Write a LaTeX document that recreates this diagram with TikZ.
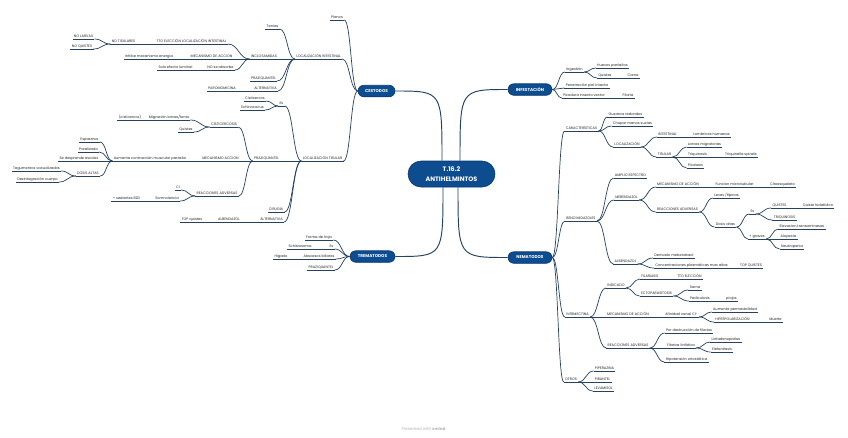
\documentclass[tikz,border=0pt]{standalone}
\usepackage{fontspec}
\setmainfont{Poppins}
\usetikzlibrary{calc}
\definecolor{lnc}{HTML}{27425F}
\definecolor{pillc}{HTML}{0C4C8F}
\definecolor{pilld}{HTML}{083A6E}
\definecolor{txt}{HTML}{262626}
\tikzset{
 ln/.style={draw=lnc, line width=0.7pt},
 mainln/.style={draw=lnc, line width=0.95pt},
 topic/.style={anchor=south, inner xsep=1.2pt, inner ysep=0.7pt, text height=2.6pt, text depth=1pt, font=\fontsize{3.55}{4}\selectfont, text=txt},
 pill/.style={fill=pillc, draw=pilld, line width=0.6pt, text=white, font=\bfseries\fontsize{4.2}{5}\selectfont, inner sep=0pt, minimum height=11.5pt, rounded corners=5.75pt},
}
\newcommand\tp[4]{\node[topic] (#1) at (#2,#3) {#4}; \draw[ln] (#1.south west) -- (#1.south east);}
\newcommand\conn[2]{\draw[ln] (#1) .. controls ($(#1)!0.5!(#1-|#2)$) and ($(#2)!0.5!(#2-|#1)$) .. (#2);}
\newcommand\lk[2]{\conn{#1.south east}{#2.south west}}
\begin{document}
\begin{tikzpicture}[x=1pt,y=-1pt]
\useasboundingbox (0,0) rectangle (848,437);
\fill[white] (0,0) rectangle (848,437);
% main nodes
\node[pill, minimum width=87pt, minimum height=26pt, rounded corners=13pt, font=\bfseries\fontsize{6.4}{9.3}\selectfont, align=center] (ctr) at (451.5,174) {T.16.2\\ANTIHELMINTOS};
\node[pill, minimum width=37pt] (cest) at (376.5,91) {CESTODOS};
\node[pill, minimum width=45pt] (trem) at (372.5,256.5) {TREMATODOS};
\node[pill, minimum width=44pt] (inf) at (530,89.5) {INFESTACIÓN};
\node[pill, minimum width=44pt] (nem) at (530,257.5) {NEMATODOS};
\coordinate (c1) at ([xshift=-9.5pt]ctr.north);
\coordinate (c2) at ([xshift=8.5pt]ctr.north);
\coordinate (c3) at ([xshift=-8.5pt]ctr.south);
\coordinate (c4) at ([xshift=6.5pt]ctr.south);
\draw[mainln] (c1) .. controls (c1 |- cest.east) .. (cest.east);
\draw[mainln] (c2) .. controls (c2 |- inf.west) .. (inf.west);
\draw[mainln] (c3) .. controls (c3 |- trem.east) .. (trem.east);
\draw[mainln] (c4) .. controls (c4 |- nem.west) .. (nem.west);
% CESTODOS
\tp{planos}{337}{20}{Planos}
\tp{locint}{318.5}{59}{LOCALIZACIÓN INTESTINAL}
\tp{tenias}{272.5}{29}{Tenias}
\tp{inclo}{264}{59}{INCLOSAMIDAS}
\tp{ttoel}{191.5}{44}{TTO ELECCIÓN LOCALIZACIÓN INTESTINAL}
\tp{notis}{123.5}{44}{NO TISULARES}
\tp{nolar}{83.5}{39}{NO LARVAS}
\tp{noqui}{82}{49}{NO QUISTES}
\tp{mecc}{211.5}{59}{MECANISMO DE ACCION}
\tp{inhibe}{149}{59}{Inhibe mecanismo energia}
\tp{noabs}{220.5}{70}{NO se absorbe}
\tp{solo}{175.5}{70}{Solo efecto luminal}
\tp{prazi1}{263.5}{81}{PRAZIQUANTEL}
\tp{alt1}{265.5}{91}{ALTERNATIVA}
\tp{paro}{222}{91}{PAROMOMICINA}
\tp{loctis}{322.5}{161}{LOCALIZACIÓN TISULAR}
\tp{es1}{281.5}{106}{Es}
\tp{cisticercos}{255}{101}{Cisticercos}
\tp{echino}{252.5}{110}{Echinococus}
\tp{prazi2}{266.5}{161}{PRAZIQUANTEL}
\tp{cistic}{224}{127}{CISTICERCOSIS}
\tp{migr}{169}{120}{Migración larvas/tenia}
\tp{cisti2}{130}{120}{(cisticercos)}
\tp{quistes1}{186}{132}{Quistes}
\tp{meca2}{220.5}{161}{MECANISMO ACCION}
\tp{aument}{150}{161}{Aumenta contracción muscular parásito}
\tp{espas}{89.5}{142}{Espasmos}
\tp{paral}{88.5}{152}{Paralizado}
\tp{sedesp}{79}{161}{Se desprende escolex}
\tp{dosis1}{88}{176}{DOSIS ALTAS}
\tp{tegu}{36.5}{171}{Tegumentos vacuolizados}
\tp{desint}{37.5}{182}{Desintegración cuerpo}
\tp{reac1}{217}{196}{REACCIONES ADVERSAS}
\tp{ci}{178}{190}{CI}
\tp{somno}{167}{201}{Somnolencia}
\tp{sedan}{126.5}{201}{+ sedantes BZD}
\tp{ciru}{276}{212}{CIRUGIA}
\tp{alt2}{271.5}{222}{ALTERNATIVA}
\tp{albe1}{229}{222}{ALBENDAZOL}
\tp{topq}{192}{222}{TOP quistes}
\conn{planos.south east}{cest.west}
\conn{locint.south east}{cest.west}
\conn{loctis.south east}{cest.west}
\lk{tenias}{locint} \lk{inclo}{locint} \lk{prazi1}{locint} \lk{alt1}{locint}
\lk{ttoel}{inclo} \lk{mecc}{inclo} \lk{noabs}{inclo}
\lk{notis}{ttoel} \lk{nolar}{notis} \lk{noqui}{notis}
\lk{inhibe}{mecc} \lk{solo}{noabs} \lk{paro}{alt1}
\lk{es1}{loctis} \lk{prazi2}{loctis} \lk{ciru}{loctis} \lk{alt2}{loctis}
\lk{cisticercos}{es1} \lk{echino}{es1}
\lk{cistic}{prazi2} \lk{meca2}{prazi2} \lk{reac1}{prazi2}
\lk{migr}{cistic} \lk{quistes1}{cistic} \lk{cisti2}{migr}
\lk{aument}{meca2} \lk{espas}{aument} \lk{paral}{aument} \lk{sedesp}{aument} \lk{dosis1}{aument}
\lk{tegu}{dosis1} \lk{desint}{dosis1}
\lk{ci}{reac1} \lk{somno}{reac1} \lk{sedan}{somno}
\lk{albe1}{alt2} \lk{topq}{albe1}
% TREMATODOS
\tp{forma}{319}{240}{Forma de hoja}
\tp{es2}{331.5}{249}{Es}
\tp{schis}{300}{249}{Schistosoma}
\tp{absc}{319}{259}{Abscesos biliares}
\tp{higado}{281}{259}{Hígado}
\tp{prazi3}{321}{270}{PRAZIQUANTEL}
\conn{forma.south east}{trem.west}
\conn{es2.south east}{trem.west}
\conn{absc.south east}{trem.west}
\conn{prazi3.south east}{trem.west}
\lk{schis}{es2} \lk{higado}{absc}
% INFESTACION
\tp{ingest}{574.5}{72}{Ingestión}
\tp{huevos}{612.5}{68}{Huevos parásitos}
\tp{quistes2}{605}{78}{Quistes}
\tp{carne}{633}{78}{Carne}
\tp{penet}{587}{88}{Penetración piel intacta}
\tp{picad}{584}{98}{Picadura insecto vector}
\tp{filaria}{628}{98}{Filaria}
\conn{inf.east}{ingest.south west}
\conn{inf.east}{penet.south west}
\conn{inf.east}{picad.south west}
\lk{ingest}{huevos} \lk{ingest}{quistes2} \lk{quistes2}{carne} \lk{picad}{filaria}
% NEMATODOS
\tp{carac}{581.5}{131}{CARACTERÍSTICAS}
\tp{gusanos}{625.5}{117}{Gusanos redondos}
\tp{chupar}{632.5}{126}{Chupar manos sucias}
\tp{loc}{627}{147}{LOCALIZACIÓN}
\tp{intest}{667.5}{137}{INTESTINAL}
\tp{lomb}{711.5}{137}{Lombrices humanas}
\tp{tisu}{664.5}{157}{TISULAR}
\tp{larvas}{704.5}{147}{Larvas migratorias}
\tp{triq}{697.5}{157}{Triquinosis}
\tp{triqsp}{741}{157}{Triquinella spiralis}
\tp{filar}{695.5}{168}{Filariasis}
\tp{benci}{581}{221}{BENCIMIDAZOLES}
\tp{amplio}{630.5}{178}{AMPLIO ESPECTRO}
\tp{mebe}{626.5}{200}{MEBENDAZOL}
\tp{meca3}{678}{187}{MECANISMO DE ACCIÓN}
\tp{func}{734.5}{187}{Funcion microtubular}
\tp{citoe}{782.5}{187}{Citoesqueleto}
\tp{reac2}{677.5}{212}{REACCIONES ADVERSAS}
\tp{leves}{726.5}{198}{Leves /típicas}
\tp{dosis2}{725.5}{227}{Dosis altas}
\tp{es3}{752.5}{214}{Es}
\tp{quistes3}{779.5}{208}{QUISTES}
\tp{hidat}{818}{208}{Quiste hidatídico}
\tp{triq2}{784.5}{220}{TRIQUINOSIS}
\tp{graves}{757}{239}{+ graves}
\tp{elev}{802}{229}{Elevacion transaminasas}
\tp{alope}{788.5}{239}{Alopecia}
\tp{neutro}{792}{249}{Neutropenia}
\tp{albe2}{625.5}{264}{ALBENDAZOL}
\tp{deriv}{674}{258}{Derivado mebendazol}
\tp{conc}{691.5}{268}{Concentraciones plasmáticas mas altas}
\tp{topq2}{751}{268}{TOP QUISTES}
\tp{iver}{577.5}{317}{IVERMECTINA}
\tp{indic}{616}{288}{INDICADO}
\tp{filar2}{650}{279}{FILARIASIS}
\tp{ttoel2}{689.5}{279}{TTO ELECCIÓN}
\tp{ecto}{656.5}{296}{ECTOPARASITOSIS}
\tp{sarna}{695}{290}{Sarna}
\tp{pedic}{700}{301}{Pediculosis}
\tp{piojos}{731.5}{301}{piojos}
\tp{meca4}{628}{317}{MECANISMO DE ACCIÓN}
\tp{afin}{681.5}{317}{Afinidad canal Cl-}
\tp{aumper}{735}{312}{Aumenta permeabilidad}
\tp{hiper}{732.5}{322}{HIPERPOLARIZACIÓN}
\tp{muerte}{775.5}{322}{Muerte}
\tp{reac3}{628}{348}{REACCIONES ADVERSAS}
\tp{pordes}{689}{333}{Por destrucción de filarias}
\tp{filin}{681}{348}{Filarias linfática}
\tp{linfa}{726}{342}{Linfadenopatías}
\tp{elef}{722}{352}{Elefantiasis}
\tp{hipot}{686.5}{362}{Hipotensión ortostática}
\tp{otros}{571}{382}{OTROS}
\tp{piper}{604.5}{371}{PIPERAZINA}
\tp{piran}{602.5}{382}{PIRANTEL}
\tp{levam}{603.5}{391}{LEVAMISOL}
\conn{nem.east}{carac.south west}
\conn{nem.east}{benci.south west}
\conn{nem.east}{iver.south west}
\conn{nem.east}{otros.south west}
\lk{carac}{gusanos} \lk{carac}{chupar} \lk{carac}{loc}
\lk{loc}{intest} \lk{loc}{tisu} \lk{intest}{lomb}
\lk{tisu}{larvas} \lk{tisu}{triq} \lk{tisu}{filar} \lk{triq}{triqsp}
\lk{benci}{amplio} \lk{benci}{mebe} \lk{benci}{albe2}
\lk{mebe}{meca3} \lk{mebe}{reac2} \lk{meca3}{func} \lk{func}{citoe}
\lk{reac2}{leves} \lk{reac2}{dosis2}
\lk{dosis2}{es3} \lk{dosis2}{graves}
\lk{es3}{quistes3} \lk{es3}{triq2} \lk{quistes3}{hidat}
\lk{graves}{elev} \lk{graves}{alope} \lk{graves}{neutro}
\lk{albe2}{deriv} \lk{albe2}{conc} \lk{conc}{topq2}
\lk{iver}{indic} \lk{iver}{meca4} \lk{iver}{reac3}
\lk{indic}{filar2} \lk{indic}{ecto} \lk{filar2}{ttoel2}
\lk{ecto}{sarna} \lk{ecto}{pedic} \lk{pedic}{piojos}
\lk{meca4}{afin} \lk{afin}{aumper} \lk{afin}{hiper} \lk{hiper}{muerte}
\lk{reac3}{pordes} \lk{reac3}{filin} \lk{reac3}{hipot}
\lk{filin}{linfa} \lk{filin}{elef}
\lk{otros}{piper} \lk{otros}{piran} \lk{otros}{levam}
% footer
\node[font=\fontsize{4}{5}\selectfont, text=black!30] (foot) at (423.5,429) {Presented with \textbf{xmind}};
\end{tikzpicture}
\end{document}
